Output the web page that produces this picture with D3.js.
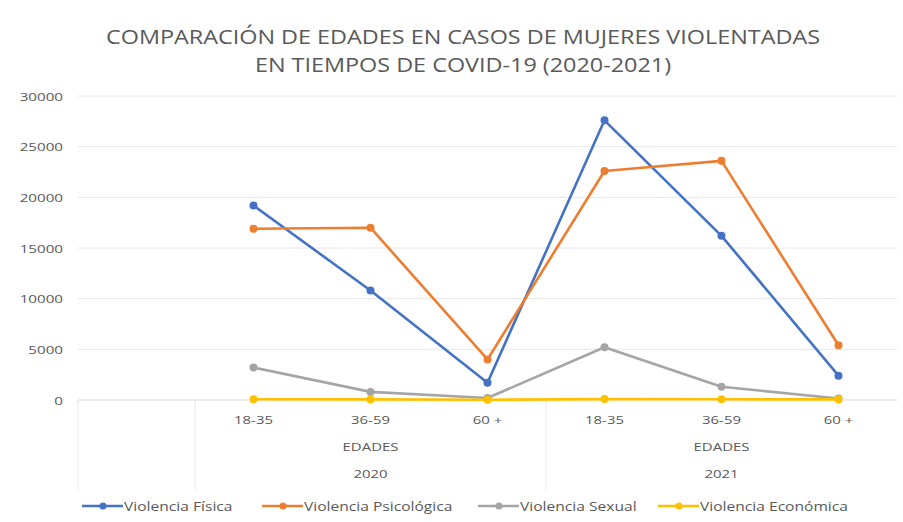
<!DOCTYPE html>
<html>
<head>
<meta charset="utf-8">
<script src="https://cdn.jsdelivr.net/npm/d3@7"></script>
<style>
  body { margin: 0; background: #fff; }
  text { font-family: "Open Sans", "Noto Sans", sans-serif; fill: #595959; }
</style>
</head>
<body>
<script>
// data
const years = ["2020", "2021"];
const ageGroups = ["18-35", "36-59", "60 +"];
const groupLabel = "EDADES";
const yTicks = [0, 5000, 10000, 15000, 20000, 25000, 30000];

const fisica = [19200, 10800, 1700, 27600, 16200, 2400];
const psicologica = [16900, 17000, 4000, 22600, 23600, 5400];
const sexual = [3200, 800, 200, 5200, 1300, 150];
const economica = [80, 60, 30, 90, 70, 60];

const seriesNames = ["Violencia Física", "Violencia Psicológica", "Violencia Sexual", "Violencia Económica"];
const seriesColors = ["#4472c4", "#ed7d31", "#a5a5a5", "#ffc000"];
const seriesValues = [fisica, psicologica, sexual, economica];

const width = 903, height = 522;
const margin = { top: 96, right: 6, bottom: 122, left: 78 };

const svg = d3.select("body").append("svg")
  .attr("width", width)
  .attr("height", height);

// the original text is stretched sideways, so draw it scaled in x
function label(parent, px, py, str, size, anchor, sx) {
  return parent.append("text")
    .attr("transform", `translate(${px},${py}) scale(${sx},1)`)
    .attr("text-anchor", anchor)
    .style("font-size", size + "px")
    .text(str);
}

// category keys (the first band is left empty, as in the original)
const keys = [""];
years.forEach(y => ageGroups.forEach(a => keys.push(y + "|" + a)));

const x = d3.scaleBand()
  .domain(keys)
  .range([margin.left, width - margin.right]);

const y = d3.scaleLinear()
  .domain([0, 30000])
  .range([height - margin.bottom, margin.top]);

// title
label(svg, 463, 44, "COMPARACIÓN DE EDADES EN CASOS DE MUJERES VIOLENTADAS", 19.5, "middle", 1.2);
label(svg, 463, 72, "EN TIEMPOS DE COVID-19 (2020-2021)", 19.5, "middle", 1.2);

// gridlines
svg.append("g")
  .selectAll("line")
  .data(yTicks.filter(d => d > 0))
  .join("line")
  .attr("x1", margin.left)
  .attr("x2", width - margin.right)
  .attr("y1", d => y(d))
  .attr("y2", d => y(d))
  .attr("stroke", "#e6e6e6")
  .attr("stroke-width", 1);

// y axis labels
const yAxis = d3.axisLeft(y).tickValues(yTicks).tickSize(0).tickFormat(d3.format("d"));
const gy = svg.append("g")
  .attr("transform", `translate(${margin.left},0)`)
  .call(yAxis);
gy.select(".domain").remove();
gy.selectAll("text")
  .attr("x", 0)
  .attr("dy", "0.35em")
  .attr("transform", "translate(-15,0) scale(1.32,1)")
  .style("font-size", "11.5px")
  .attr("fill", "#595959");

// x axis baseline
const baseY = y(0);
svg.append("line")
  .attr("x1", margin.left).attr("x2", width - margin.right)
  .attr("y1", baseY).attr("y2", baseY)
  .attr("stroke", "#d9d9d9");

// multi-level category separators
const sepX = [margin.left, x(years[0] + "|" + ageGroups[0]), x(years[1] + "|" + ageGroups[0])];
svg.append("g")
  .selectAll("line")
  .data(sepX)
  .join("line")
  .attr("x1", d => d).attr("x2", d => d)
  .attr("y1", baseY).attr("y2", 490)
  .attr("stroke", "#e6e6e6");

// category labels
const catG = svg.append("g");
keys.slice(1).forEach(k => {
  label(catG, x(k) + x.bandwidth() / 2, 424, k.split("|")[1], 11.5, "middle", 1.3);
});

years.forEach(yr => {
  const x0 = x(yr + "|" + ageGroups[0]);
  const x1 = x(yr + "|" + ageGroups[ageGroups.length - 1]) + x.bandwidth();
  label(svg, (x0 + x1) / 2, 451, groupLabel, 11.5, "middle", 1.3);
  label(svg, (x0 + x1) / 2, 478, yr, 11.5, "middle", 1.3);
});

// lines
const line = d3.line()
  .x((d, i) => x(keys[i + 1]) + x.bandwidth() / 2)
  .y(d => y(d));

seriesValues.forEach((vals, s) => {
  svg.append("path")
    .datum(vals)
    .attr("d", line)
    .attr("fill", "none")
    .attr("stroke", seriesColors[s])
    .attr("stroke-width", 2.6)
    .attr("stroke-linejoin", "round");
  svg.append("g")
    .selectAll("circle")
    .data(vals)
    .join("circle")
    .attr("cx", (d, i) => x(keys[i + 1]) + x.bandwidth() / 2)
    .attr("cy", d => y(d))
    .attr("r", 4)
    .attr("fill", seriesColors[s]);
});

// legend
const legendX = [82, 262, 478, 658];
const legend = svg.append("g");
seriesNames.forEach((name, i) => {
  const g = legend.append("g").attr("transform", `translate(${legendX[i]},506)`);
  g.append("line")
    .attr("x1", 0).attr("x2", 41)
    .attr("stroke", seriesColors[i])
    .attr("stroke-width", 2.6);
  g.append("circle").attr("cx", 21).attr("r", 3.5).attr("fill", seriesColors[i]);
  label(g, 42, 4.5, name, 12, "start", 1.3);
});
</script>
</body>
</html>
